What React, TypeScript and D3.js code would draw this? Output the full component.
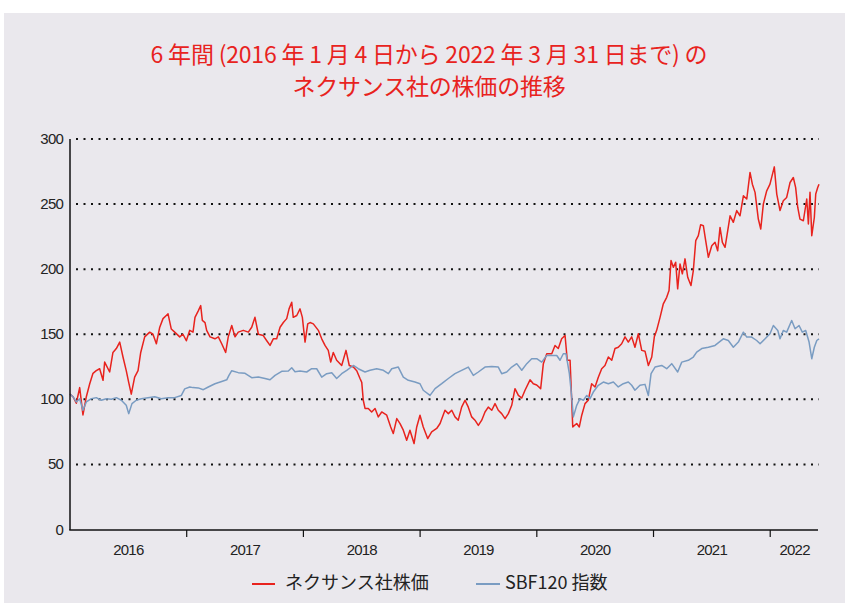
import React from "react";
import * as d3 from "d3";

// x values: years elapsed since 2016-01-04
const nexansT = [0,0.026,0.054,0.083,0.111,0.140,0.169,0.197,0.225,0.254,0.283,0.297,0.340,0.368,0.397,0.426,0.454,0.482,0.503,0.525,0.554,0.583,0.606,0.640,0.683,0.711,0.740,0.769,0.797,0.825,0.840,0.868,0.897,0.940,0.968,0.997,1.026,1.054,1.071,1.099,1.120,1.134,1.157,1.171,1.200,1.242,1.271,1.300,1.334,1.356,1.386,1.414,1.442,1.485,1.528,1.557,1.585,1.614,1.656,1.686,1.714,1.742,1.771,1.800,1.828,1.857,1.877,1.900,1.913,1.943,1.971,1.991,2.014,2.037,2.057,2.085,2.128,2.157,2.185,2.213,2.234,2.256,2.285,2.328,2.365,2.393,2.428,2.457,2.485,2.500,2.513,2.528,2.556,2.585,2.614,2.642,2.671,2.714,2.748,2.770,2.800,2.828,2.856,2.885,2.913,2.948,2.971,2.999,3.027,3.065,3.099,3.142,3.171,3.213,3.242,3.271,3.299,3.327,3.356,3.385,3.413,3.442,3.470,3.499,3.528,3.556,3.584,3.614,3.642,3.670,3.699,3.728,3.756,3.785,3.813,3.842,3.871,3.899,3.942,3.970,3.999,4.033,4.056,4.085,4.128,4.156,4.184,4.213,4.242,4.261,4.285,4.308,4.342,4.364,4.385,4.413,4.441,4.470,4.499,4.527,4.556,4.584,4.613,4.642,4.670,4.698,4.727,4.756,4.784,4.813,4.841,4.870,4.899,4.927,4.956,4.985,5.007,5.027,5.056,5.084,5.113,5.133,5.150,5.170,5.190,5.207,5.227,5.247,5.270,5.293,5.321,5.341,5.362,5.384,5.404,5.427,5.447,5.470,5.499,5.527,5.550,5.570,5.590,5.613,5.636,5.656,5.684,5.713,5.741,5.770,5.799,5.827,5.847,5.870,5.898,5.919,5.941,5.970,5.998,6.035,6.056,6.084,6.112,6.141,6.170,6.198,6.218,6.236,6.255,6.284,6.313,6.327,6.341,6.356,6.378,6.390,6.407,6.418];
const nexansV = [104,102,97,109,88,102,112,120,122,123.5,114.6,128.6,121,136,139,144,132.5,122,113,104,117,122,136,148,151.6,150,142.7,155.4,162,164.4,165.7,154,151.6,148,150,145,153,151.6,163,168,172,160.6,159,153,148,146.5,148,142.7,136,148,156.7,148,151.6,153,151.6,155.4,163,150,149,145,141.4,146.5,146.5,155.4,159,162,169.5,174.6,163,164.4,169.5,163,144,158,159,158,153,146.5,141.4,137.6,128.6,136,130,126,137.6,126,124.8,122,116,113,99.3,93,93,90.3,93,86.5,90.3,87.8,78.8,73.7,85.2,81.4,76.3,68.6,76.3,66,78.8,87.8,78.8,69.9,75,77.6,81.4,91.6,89,91.6,86.5,84,94,99.3,94,86.5,84,80,84,90.3,94,91.6,96.7,91.6,89,85.2,89,95.4,108.2,103,101,107,115,112,111,108.2,127.4,135,135,141.4,139,146.5,149,130,130,78.8,81.4,78.8,87.8,96.7,99.3,112,109.5,117,123.5,126,132.5,130,139,140,142.7,148,144,148,140,150.4,137.6,137,126,132.5,148,153,163,173.4,178.4,183.6,206.6,201.4,205.3,184.9,204,196.4,207.9,193.8,187.4,198.9,221.9,225.7,234.2,233.4,221.9,209.1,218,220.6,214.2,232.1,220.6,216.8,229.6,241,236,245,241,256.4,253.9,274.3,265.3,259,238.5,230.9,250,260.2,265.3,278.6,257.7,245,252.6,255.1,266.6,270.4,262.7,247.4,238.5,237.2,253.9,234.7,259,225.7,239.7,257.7,262.7,265.3];

const sbfT = [0,0.026,0.054,0.083,0.111,0.140,0.183,0.225,0.268,0.311,0.354,0.397,0.440,0.482,0.503,0.531,0.568,0.611,0.668,0.726,0.782,0.840,0.897,0.954,0.983,1.026,1.054,1.099,1.142,1.185,1.242,1.300,1.343,1.362,1.386,1.442,1.500,1.557,1.614,1.671,1.714,1.757,1.814,1.871,1.900,1.928,1.971,2.028,2.071,2.114,2.157,2.200,2.243,2.285,2.328,2.371,2.428,2.470,2.528,2.571,2.628,2.685,2.728,2.757,2.813,2.856,2.899,2.956,2.999,3.027,3.085,3.128,3.185,3.242,3.299,3.356,3.413,3.456,3.499,3.556,3.614,3.670,3.699,3.742,3.785,3.828,3.871,3.914,3.956,3.999,4.042,4.085,4.128,4.171,4.199,4.227,4.250,4.279,4.299,4.313,4.342,4.370,4.399,4.428,4.456,4.484,4.527,4.570,4.613,4.656,4.698,4.741,4.784,4.813,4.841,4.884,4.927,4.956,4.979,5.013,5.070,5.113,5.156,5.207,5.242,5.298,5.341,5.370,5.413,5.470,5.527,5.598,5.641,5.684,5.727,5.770,5.799,5.841,5.884,5.913,5.956,5.998,6.027,6.065,6.084,6.112,6.141,6.184,6.213,6.247,6.275,6.304,6.333,6.356,6.378,6.399,6.418];
const sbfV = [104,102,98,100.5,91.6,98,100.5,101.3,99.3,100.5,100,101.3,99.3,95.4,89,96.7,99.3,100.5,101.3,102,100.5,101.3,101.3,103,108,109.5,109,108.8,107.4,109.5,112,113.7,115,118.4,122,120.5,120,116.6,117.2,116,115,118.4,121.5,121.7,124.3,121.2,121.7,121,123.5,123.5,117,119.7,120.5,116,119.7,122.3,126,123.5,121,122.3,123.5,122.3,119.7,123.5,124.8,117,114.6,113.3,112,107,103,108.2,112,116,119.7,122.3,124.8,118.4,121,124.8,125.3,124.8,119.7,121,124.8,127.4,122.3,127.4,131.2,131.2,128.6,133.7,133.7,133.7,130,135,135,119.7,101.8,86.5,95.4,100.5,99.3,103,100.5,105.6,110.8,113.3,112,113.3,109.5,112,113.3,110.8,107,110.8,111.5,103,119.7,124.8,126,123.5,127.4,121,128.6,130,132.5,136.3,139,140,141.4,146.5,145.2,140,144,151.6,147.8,147.8,145.2,142.7,146.5,150.4,156.7,152.9,146.5,152.9,151.6,160.6,154.2,156.7,151.6,152.9,144,131.2,140,145.2,146.5];

const yTicks = [0, 50, 100, 150, 200, 250, 300];
const yearBounds = [1, 2, 3, 4, 5, 6];
const yearLabels = ["2016", "2017", "2018", "2019", "2020", "2021", "2022"];
const titleLines = ["6 年間 (2016 年 1 月 4 日から 2022 年 3 月 31 日まで) の", "ネクサンス社の株価の推移"];
const seriesNames = ["ネクサンス社株価", "SBF120 指数"];

const W = 845, H = 603;
const RED = "#e8231e";
const BLUE = "#7a9cc2";
const BG = "#eae8ed";

export default function App() {
  const x = d3.scaleLinear().domain([0, 6.418]).range([70, 819]);
  const y = d3.scaleLinear().domain([0, 300]).range([529.5, 139]);
  const mk = (T: number[], V: number[]) =>
    d3.line<[number, number]>().x(d => x(d[0])).y(d => y(d[1]))(T.map((t, i) => [t, V[i]] as [number, number])) || "";
  const redPath = mk(nexansT, nexansV);
  const bluePath = mk(sbfT, sbfV);
  const labelPos = yearLabels.map((_, i) => (i < 6 ? i + 0.5 : (6 + 6.418) / 2));
  const numFont = "'Liberation Sans', Arial, sans-serif";
  const cjkFont = "'Noto Sans CJK JP', 'Noto Sans', sans-serif";
  return (
    <svg width={W} height={H} style={{ position: "absolute", left: 0, top: 0 }}>
      <rect x={0} y={0} width={W} height={H} fill="#ffffff" />
      <rect x={4} y={13} width={W - 4} height={H - 13} fill={BG} />
      {titleLines.map((t, i) => (
        <text key={i} x={429} y={63 + i * 32} textAnchor="middle" fill={RED}
          fontFamily={cjkFont} fontSize={23} fontWeight={400} letterSpacing={-0.2}>{t}</text>
      ))}
      {yTicks.filter(v => v > 0).map(v => (
        <line key={v} x1={76} x2={819} y1={y(v)} y2={y(v)} stroke="#111" strokeWidth={2}
          strokeDasharray="2 5.5" />
      ))}
      {yTicks.map(v => (
        <text key={v} x={63} y={y(v) + 5} textAnchor="end" fontFamily={numFont} fontSize={15}
          fill="#222" letterSpacing={-0.8}>{v}</text>
      ))}
      <path d={redPath} fill="none" stroke={RED} strokeWidth={1.5} strokeLinejoin="round" />
      <path d={bluePath} fill="none" stroke={BLUE} strokeWidth={1.5} strokeLinejoin="round" />
      <line x1={70} x2={70} y1={139} y2={530} stroke="#111" strokeWidth={1.5} />
      <line x1={69.25} x2={818} y1={530} y2={530} stroke="#111" strokeWidth={1.5} />
      {yearBounds.map(b => (
        <line key={b} x1={x(b)} x2={x(b)} y1={530} y2={537} stroke="#111" strokeWidth={1.2} />
      ))}
      {yearLabels.map((l, i) => (
        <text key={l} x={x(labelPos[i])} y={555} textAnchor="middle" fontFamily={numFont}
          fontSize={15} fill="#222" letterSpacing={-0.8}>{l}</text>
      ))}
      <line x1={252} x2={275} y1={584} y2={584} stroke={RED} strokeWidth={2} />
      <text x={285} y={589} fontFamily={cjkFont} fontSize={18} fill="#222">{seriesNames[0]}</text>
      <line x1={476} x2={500} y1={584} y2={584} stroke={BLUE} strokeWidth={2} />
      <text x={505} y={589} fontFamily={cjkFont} fontSize={18} fill="#222">{seriesNames[1]}</text>
    </svg>
  );
}
